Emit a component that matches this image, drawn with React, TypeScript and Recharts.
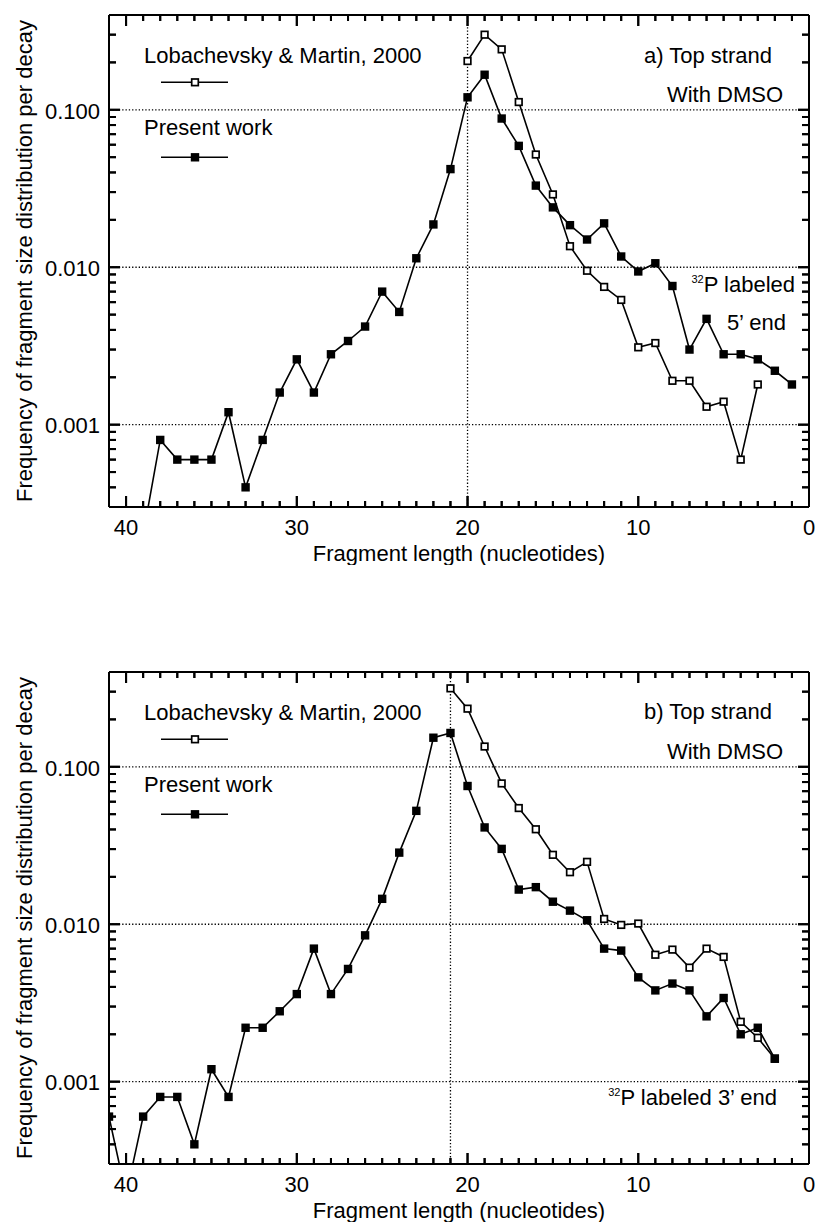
import React from "react";
import { LineChart, Line, XAxis, YAxis, ReferenceLine, Label } from "recharts";

const FONT = '"Liberation Sans", Arial, Helvetica, sans-serif';

// a) top strand, 32P labeled 5' end
const aPresentLengths = [
  39, 38, 37, 36, 35, 34, 33, 32, 31, 30, 29, 28, 27, 26, 25, 24, 23, 22, 21,
  20, 19, 18, 17, 16, 15, 14, 13, 12, 11, 10, 9, 8, 7, 6, 5, 4, 3, 2, 1,
];
const aPresentFreq = [
  0.0002, 0.0008, 0.0006, 0.0006, 0.0006, 0.0012, 0.0004, 0.0008, 0.0016,
  0.0026, 0.0016, 0.0028, 0.0034, 0.0042, 0.007, 0.0052, 0.0114, 0.0187, 0.042,
  0.12, 0.167, 0.088, 0.059, 0.033, 0.024, 0.0185, 0.015, 0.019, 0.0117,
  0.0094, 0.0106, 0.0076, 0.003, 0.0047, 0.0028, 0.0028, 0.0026, 0.0022,
  0.0018,
];
const aLobLengths = [20, 19, 18, 17, 16, 15, 14, 13, 12, 11, 10, 9, 8, 7, 6, 5, 4, 3];
const aLobFreq = [
  0.204, 0.3, 0.242, 0.112, 0.052, 0.029, 0.0136, 0.0095, 0.0075, 0.0062,
  0.0031, 0.0033, 0.0019, 0.0019, 0.0013, 0.0014, 0.0006, 0.0018,
];

// b) top strand, 32P labeled 3' end
const bPresentLengths = [
  41, 40, 39, 38, 37, 36, 35, 34, 33, 32, 31, 30, 29, 28, 27, 26, 25, 24, 23,
  22, 21, 20, 19, 18, 17, 16, 15, 14, 13, 12, 11, 10, 9, 8, 7, 6, 5, 4, 3, 2,
];
const bPresentFreq = [
  0.0006, 0.00019, 0.0006, 0.0008, 0.0008, 0.0004, 0.0012, 0.0008, 0.0022,
  0.0022, 0.0028, 0.0036, 0.007, 0.0036, 0.0052, 0.0085, 0.0145, 0.0285,
  0.0525, 0.153, 0.164, 0.0755, 0.0412, 0.0301, 0.0166, 0.0172, 0.0139, 0.0122,
  0.0106, 0.007, 0.0068, 0.0046, 0.0038, 0.0042, 0.0038, 0.0026, 0.0034, 0.002,
  0.0022, 0.0014,
];
const bLobLengths = [
  21, 20, 19, 18, 17, 16, 15, 14, 13, 12, 11, 10, 9, 8, 7, 6, 5, 4, 3, 2,
];
const bLobFreq = [
  0.315, 0.234, 0.1345, 0.0784, 0.0547, 0.0401, 0.0276, 0.0214, 0.0249,
  0.0108, 0.0099, 0.0101, 0.0064, 0.0069, 0.0053, 0.007, 0.0062, 0.0024,
  0.0019, 0.0014,
];

const xMajorTicks = [0, 10, 20, 30, 40];
const yMajorTicks = [0.001, 0.01, 0.1];
const LOB = "Lobachevsky & Martin, 2000";
const PRESENT = "Present work";

const W = 819;
const H = 565;
const PLOT_L = 109;
const PLOT_R = 809;
const PLOT_T = 15;
const PLOT_B = 507;
const X_DOMAIN: [number, number] = [0, 41];
const Y_DOMAIN: [number, number] = [0.0003, 0.4];
const INK = "#000";
const TICK_W = 2;

// a tick for every nucleotide, long ones every 10
const xTickMarks: number[] = [];
for (let i = 0; i <= 40; i++) xTickMarks.push(i);

// 1..9 inside each decade
const yTickMarks: number[] = [];
[0.0001, 0.001, 0.01, 0.1].forEach((d) => {
  for (let m = 1; m <= 9; m++) {
    const v = +(d * m).toPrecision(3);
    if (v > Y_DOMAIN[0] && v < Y_DOMAIN[1]) yTickMarks.push(v);
  }
});

const zip = (xs: number[], ys: number[]) => xs.map((x, i) => ({ x, y: ys[i] }));

// bottom/top inward marks plus the number under the major ones
function XTickMark(props: any) {
  const { x, payload } = props;
  const v = payload.value;
  const major = xMajorTicks.includes(v);
  const len = major ? 11 : 6;
  return (
    <g>
      <rect x={x - TICK_W / 2} y={PLOT_B - len} width={TICK_W} height={len} fill={INK} />
      <rect x={x - TICK_W / 2} y={PLOT_T} width={TICK_W} height={len} fill={INK} />
      {major && (
        <text x={x} y={PLOT_B + 28} textAnchor="middle" fontSize={22} fontFamily={FONT} fill={INK}>
          {v}
        </text>
      )}
    </g>
  );
}

// left/right inward marks plus the decade labels
function YTickMark(props: any) {
  const { y, payload } = props;
  const v = Number(payload.value);
  const major = yMajorTicks.includes(v);
  const len = major ? 11 : 7;
  return (
    <g>
      <rect x={PLOT_L} y={y - TICK_W / 2} width={len} height={TICK_W} fill={INK} />
      <rect x={PLOT_R - len} y={y - TICK_W / 2} width={len} height={TICK_W} fill={INK} />
      {major && (
        <text x={PLOT_L - 9} y={y} dy="0.4em" textAnchor="end" fontSize={22} fontFamily={FONT} fill={INK}>
          {v.toFixed(3)}
        </text>
      )}
    </g>
  );
}

// same marks again from reference lines, so they sit above the plot layers
const vTicks = (len: number) => (p: any) => (
  <g>
    <rect x={p.x1 - TICK_W / 2} y={PLOT_B - len} width={TICK_W} height={len} fill={INK} />
    <rect x={p.x1 - TICK_W / 2} y={PLOT_T} width={TICK_W} height={len} fill={INK} />
  </g>
);

const hTicks = (len: number) => (p: any) => (
  <g>
    <rect x={PLOT_L} y={p.y1 - TICK_W / 2} width={len} height={TICK_W} fill={INK} />
    <rect x={PLOT_R - len} y={p.y1 - TICK_W / 2} width={len} height={TICK_W} fill={INK} />
  </g>
);

function OpenSquare(props: any) {
  const { cx, cy, index } = props;
  if (cx == null || cy == null) return <g key={index} />;
  return (
    <rect key={index} x={cx - 3.3} y={cy - 3.3} width={6.6} height={6.6} fill="#fff" stroke={INK} strokeWidth={1.7} />
  );
}

function FilledSquare(props: any) {
  const { cx, cy, index } = props;
  if (cx == null || cy == null) return <g key={index} />;
  return <rect key={index} x={cx - 4.2} y={cy - 4.2} width={8.4} height={8.4} fill={INK} />;
}

function LegendKey() {
  const entries = [LOB, PRESENT];
  return (
    <g>
      {entries.map((name, i) => {
        const ty = 63 + i * 72;
        const ly = 82.3 + i * 75;
        return (
          <g key={name}>
            <text x={144} y={ty} fontSize={22} fontFamily={FONT} fill={INK}>
              {name}
            </text>
            <line x1={161} x2={228} y1={ly} y2={ly} stroke={INK} strokeWidth={1.6} />
            {name === LOB ? (
              <rect x={191.7} y={ly - 3.3} width={6.6} height={6.6} fill="#fff" stroke={INK} strokeWidth={1.7} />
            ) : (
              <rect x={190.8} y={ly - 4.2} width={8.4} height={8.4} fill={INK} />
            )}
          </g>
        );
      })}
    </g>
  );
}

function Panel({
  present,
  lob,
  peakX,
  children,
}: {
  present: { x: number; y: number }[];
  lob: { x: number; y: number }[];
  peakX: number;
  children?: React.ReactNode;
}) {
  return (
    <LineChart width={W} height={H} margin={{ top: PLOT_T, right: W - PLOT_R, bottom: 0, left: 0 }}>
      <XAxis
        dataKey="x"
        type="number"
        domain={X_DOMAIN}
        reversed
        allowDataOverflow
        ticks={xTickMarks}
        interval={0}
        tickLine={false}
        axisLine={{ stroke: INK, strokeWidth: 2 }}
        tick={<XTickMark />}
        height={H - PLOT_B}
      >
        <Label
          content={() => (
            <text
              x={(PLOT_L + PLOT_R) / 2}
              y={PLOT_B + 54}
              textAnchor="middle"
              fontSize={22}
              fontFamily={FONT}
              fill={INK}
            >
              Fragment length (nucleotides)
            </text>
          )}
        />
      </XAxis>
      <YAxis
        dataKey="y"
        type="number"
        scale="log"
        domain={Y_DOMAIN}
        allowDataOverflow
        ticks={yTickMarks}
        interval={0}
        tickLine={false}
        axisLine={{ stroke: INK, strokeWidth: 2 }}
        tick={<YTickMark />}
        width={PLOT_L}
      >
        <Label
          content={() => {
            const cy = (PLOT_T + PLOT_B) / 2;
            return (
              <text
                x={31.5}
                y={cy}
                transform={`rotate(-90, 31.5, ${cy})`}
                textAnchor="middle"
                fontSize={22}
                fontFamily={FONT}
                fill={INK}
              >
                Frequency of fragment size distribution per decay
              </text>
            );
          }}
        />
      </YAxis>

      {/* top and right edges of the frame */}
      <ReferenceLine y={Y_DOMAIN[1]} ifOverflow="visible" stroke={INK} strokeWidth={2} />
      <ReferenceLine x={X_DOMAIN[0]} ifOverflow="visible" stroke={INK} strokeWidth={2} />

      {/* dotted grid */}
      {yMajorTicks.map((v) => (
        <ReferenceLine key={`g${v}`} y={v} stroke={INK} strokeWidth={1.3} strokeDasharray="1.3 2" />
      ))}
      <ReferenceLine x={peakX} stroke={INK} strokeWidth={1.3} strokeDasharray="1.3 2" />

      {xTickMarks
        .filter((v) => v > 0)
        .map((v) => (
          <ReferenceLine
            key={`xt${v}`}
            x={v}
            stroke={INK}
            strokeWidth={1}
            shape={vTicks(xMajorTicks.includes(v) ? 11 : 6)}
          />
        ))}
      {yTickMarks.map((v) => (
        <ReferenceLine
          key={`yt${v}`}
          y={v}
          stroke={INK}
          strokeWidth={1}
          shape={hTicks(yMajorTicks.includes(v) ? 11 : 7)}
        />
      ))}

      <Line
        data={lob}
        dataKey="y"
        name={LOB}
        stroke={INK}
        strokeWidth={1.6}
        dot={<OpenSquare />}
        isAnimationActive={false}
      />
      <Line
        data={present}
        dataKey="y"
        name={PRESENT}
        stroke={INK}
        strokeWidth={1.6}
        dot={<FilledSquare />}
        isAnimationActive={false}
      />

      <LegendKey />
      {children}
    </LineChart>
  );
}

const noteStyle = { fontSize: 22, fontFamily: FONT, fill: INK };

export default function App() {
  return (
    <div style={{ position: "absolute", left: 0, top: 0, width: W, height: 1222, background: "#fff" }}>
      <div style={{ position: "absolute", left: 0, top: 0 }}>
        <Panel present={zip(aPresentLengths, aPresentFreq)} lob={zip(aLobLengths, aLobFreq)} peakX={20}>
          <text x={772} y={63} textAnchor="end" {...noteStyle}>
            a) Top strand
          </text>
          <text x={783} y={102} textAnchor="end" {...noteStyle}>
            With DMSO
          </text>
          <text x={795} y={291.7} textAnchor="end" {...noteStyle}>
            <tspan fontSize={11} dy={-9}>
              32
            </tspan>
            <tspan dy={9}>P labeled</tspan>
          </text>
          <text x={786} y={330} textAnchor="end" {...noteStyle}>
            5’ end
          </text>
        </Panel>
      </div>
      <div style={{ position: "absolute", left: 0, top: 657 }}>
        <Panel present={zip(bPresentLengths, bPresentFreq)} lob={zip(bLobLengths, bLobFreq)} peakX={21}>
          <text x={772} y={62} textAnchor="end" {...noteStyle}>
            b) Top strand
          </text>
          <text x={783} y={102} textAnchor="end" {...noteStyle}>
            With DMSO
          </text>
          <text x={777} y={448} textAnchor="end" {...noteStyle}>
            <tspan fontSize={11} dy={-9}>
              32
            </tspan>
            <tspan dy={9}>P labeled 3’ end</tspan>
          </text>
        </Panel>
      </div>
    </div>
  );
}
